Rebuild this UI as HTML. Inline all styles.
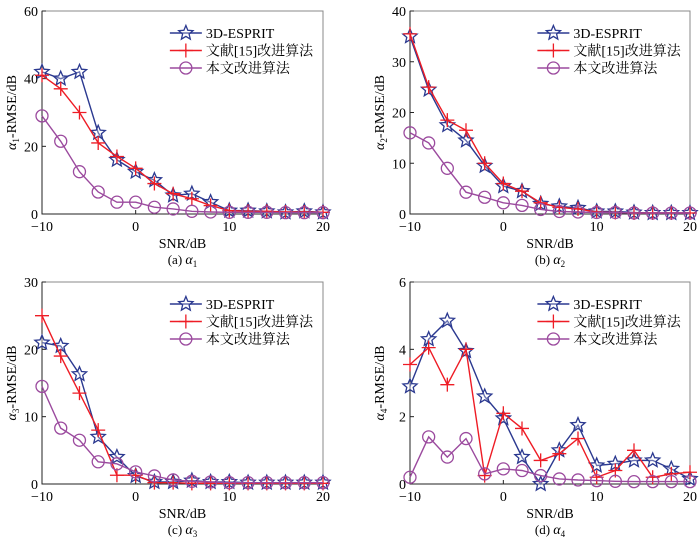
<!DOCTYPE html>
<html><head><meta charset="utf-8"><style>
body{margin:0;background:#fff;width:700px;height:544px;overflow:hidden}
svg{font-family:"Liberation Serif","Noto Serif CJK SC",serif}
</style></head><body>
<svg id="s" width="700" height="544"></svg>
<script>
const snr=[-10,-8,-6,-4,-2,0,2,4,6,8,10,12,14,16,18,20];
const xTicks=[-10,0,10,20];
const aStar=[42,40,42,24,16,12.5,10,5.5,6,3.5,1,1,0.8,0.5,0.8,0.5];
const aPlus=[41,37,30,21,17,13.5,9,6,4.5,2.5,1,0.8,0.8,0.6,0.6,0.5];
const aCirc=[29,21.5,12.5,6.5,3.5,3.5,2,1.5,0.8,0.6,0.5,0.5,0.5,0.4,0.4,0.4];
const bStar=[35,24.5,17.5,14.5,9.5,5.5,4.5,2,1.5,1.2,0.5,0.5,0.3,0.2,0.2,0.2];
const bPlus=[35.5,25,18.5,16.5,10,6,4.5,2.2,1.3,1,0.4,0.3,0.2,0.2,0.2,0.2];
const bCirc=[16,14,9,4.3,3.3,2.2,1.7,0.9,0.5,0.4,0.3,0.3,0.2,0.2,0.2,0.2];
const cStar=[21,20.5,16.3,7,4,1.2,0.3,0.3,0.5,0.3,0.3,0.2,0.2,0.2,0.2,0.2];
const cPlus=[25,19,13.5,8,1.3,1.3,0.2,0.2,0.1,0.1,0.1,0.1,0.1,0.1,0.1,0.1];
const cCirc=[14.5,8.3,6.5,3.3,3,1.8,1.2,0.6,0.4,0.3,0.2,0.2,0.2,0.2,0.2,0.2];
const dStar=[2.9,4.3,4.85,3.95,2.6,1.95,0.8,0,1.0,1.75,0.55,0.6,0.7,0.7,0.45,0.15];
const dPlus=[3.55,4.05,2.95,4.0,0.25,2.1,1.65,0.7,0.9,1.35,0.2,0.4,1.0,0.2,0.3,0.35];
const dCirc=[0.2,1.4,0.8,1.35,0.3,0.45,0.4,0.25,0.15,0.12,0.1,0.08,0.07,0.07,0.07,0.07];
const legendLabels=["3D-ESPRIT","文献[15]改进算法","本文改进算法"];
const NS="http://www.w3.org/2000/svg";
const svg=document.getElementById('s');
const C={star:"#2b3990",plus:"#ee1c25",circ:"#9b4a9e"};
function el(t,a,p){const e=document.createElementNS(NS,t);for(const k in a)e.setAttribute(k,a[k]);(p||svg).appendChild(e);return e;}
function starPath(cx,cy,r){let d="";for(let i=0;i<10;i++){const rr=i%2?r*0.45:r;const an=-Math.PI/2+i*Math.PI/5;d+=(i?"L":"M")+(cx+rr*Math.cos(an)).toFixed(1)+","+(cy+rr*Math.sin(an)).toFixed(1);}return d+"Z";}
function marker(g,kind,x,y){
 if(kind==="star"){const m=el('path',{d:starPath(x,y,7.5),fill:"#fff","fill-opacity":0.3,stroke:C.star,"stroke-width":1.3},g);}
 else if(kind==="plus"){const m=el('path',{d:`M${x-7},${y}H${x+7}M${x},${y-7}V${y+7}`,stroke:C.plus,"stroke-width":1.3},g);}
 else{const m=el('circle',{cx:x,cy:y,r:6,fill:"none",stroke:C.circ,"stroke-width":1.3},g);}
}
function panel(name,L,R,T,B,ymax,yTicks,sub,caption,series){
 const g=el('g',{});
 const xs=v=>L+(v+10)/30*(R-L), ys=v=>B-v/ymax*(B-T);
 const box=el('rect',{x:L,y:T,width:R-L,height:B-T,fill:"none",stroke:"#888","stroke-width":1},g);
 
 const ax=el('path',{d:`M${L},${T}V${B}H${R}`,stroke:"#222",fill:"none","stroke-width":1},g);
 
 xTicks.forEach(v=>{const x=xs(v);el('path',{d:`M${x},${B}V${B-4}`,stroke:"#222"},g);
  const t=el('text',{x:x,y:B+17,"text-anchor":"middle","font-size":14},g);t.textContent=v===-10?"−10":v;});
 yTicks.forEach(v=>{const y=ys(v);el('path',{d:`M${L},${y}H${L+4}`,stroke:"#222"},g);
  const t=el('text',{x:L-4,y:y+5,"text-anchor":"end","font-size":14},g);t.textContent=v;});
 const xl=el('text',{x:(L+R)/2,y:B+34,"text-anchor":"middle","font-size":14},g);xl.textContent="SNR/dB";
 const cp=el('text',{x:(L+R)/2,y:B+50,"text-anchor":"middle","font-size":13},g);cp.innerHTML=caption+' <tspan font-style="italic" font-size="14">α</tspan><tspan font-size="9" dy="3">'+sub+'</tspan>';
 const yl=el('text',{transform:`translate(${L-26},${(T+B)/2}) rotate(-90)`,"text-anchor":"middle","font-size":14},g);
 yl.innerHTML='<tspan font-style="italic">α</tspan><tspan font-size="9" dy="3">'+sub+'</tspan><tspan dy="-3">-RMSE/dB</tspan>';
 
 const kinds=["star","plus","circ"];
 series.forEach((vals,i)=>{const k=kinds[i];
  const pts=vals.map((v,j)=>xs(snr[j]).toFixed(1)+","+ys(v).toFixed(1)).join(" ");
  const pl=el('polyline',{points:pts,fill:"none",stroke:C[k],"stroke-width":1.4},g);
  
  vals.forEach((v,j)=>marker(g,k,xs(snr[j]),ys(v)));});
 const lx=L+(R-L)*0.455, ly=T+22;
 kinds.forEach((k,i)=>{const y=ly+i*17.5;
  const lg=el('g',{},g);
  el('path',{d:`M${lx},${y}H${lx+32}`,stroke:C[k],"stroke-width":1.4},lg);marker(lg,k,lx+16,y);
  const t=el('text',{x:lx+36,y:y+5,"font-size":14},lg);t.textContent=legendLabels[i];});
}
panel('panel-a',42,323,11,214,60,[0,20,40,60],'1','(a)',[aStar,aPlus,aCirc]);
panel('panel-b',410,690,11,214,40,[0,10,20,30,40],'2','(b)',[bStar,bPlus,bCirc]);
panel('panel-c',42,323,282,484,30,[0,10,20,30],'3','(c)',[cStar,cPlus,cCirc]);
panel('panel-d',410,690,282,484,6,[0,2,4,6],'4','(d)',[dStar,dPlus,dCirc]);
</script>
</body></html>
